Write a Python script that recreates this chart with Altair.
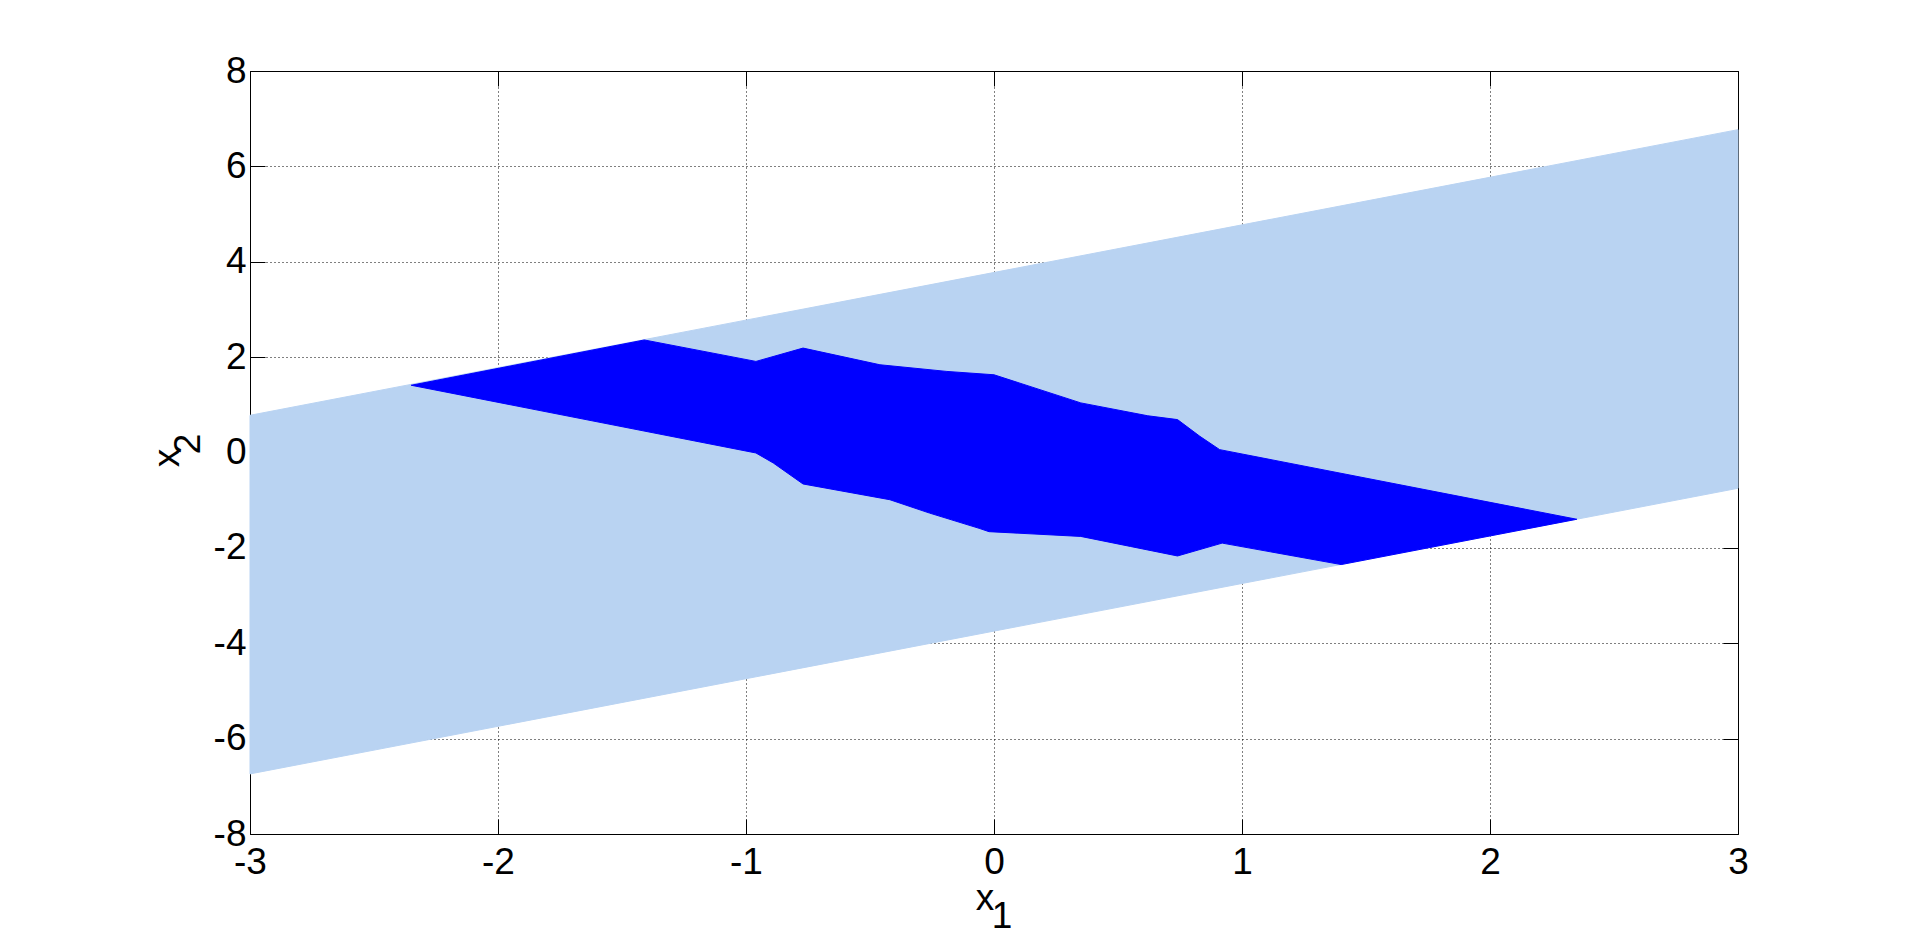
import altair as alt
import pandas as pd

# ---- data ----
x_ticks = [-3, -2, -1, 0, 1, 2, 3]
y_ticks = [-8, -6, -4, -2, 0, 2, 4, 6, 8]

# light blue band (parallelogram), vertices in drawing order
band_x = [-3.0, 3.0, 3.0, -3.0]
band_y = [0.78, 6.77, -0.75, -6.74]

# dark blue region: upper boundary, left -> right
top_x = [-2.35, -1.41, -0.96, -0.77, -0.46, -0.19, 0.00, 0.35, 0.62, 0.74, 0.83, 0.91, 2.35]
top_y = [1.41, 2.36, 1.91, 2.19, 1.84, 1.70, 1.63, 1.04, 0.77, 0.69, 0.34, 0.06, -1.40]

# dark blue region: lower boundary, left -> right
bot_x = [-2.35, -0.96, -0.89, -0.77, -0.42, -0.26, -0.06, -0.02, 0.35, 0.55, 0.74, 0.92, 1.40, 2.35]
bot_y = [1.41, -0.01, -0.22, -0.66, -0.99, -1.27, -1.59, -1.66, -1.76, -1.97, -2.17, -1.90, -2.35, -1.40]

LIGHT = "#B9D3F2"
DARK = "#0000FF"
FONT = "Liberation Sans"
FS = 37

# ---- tables ----
band_df = pd.DataFrame({"x": band_x + band_x[:1], "y": band_y + band_y[:1]})
band_df["i"] = range(len(band_df))

px = top_x + bot_x[::-1][1:]
py = top_y + bot_y[::-1][1:]
poly_df = pd.DataFrame({"x": px, "y": py})
poly_df["i"] = range(len(poly_df))

xs = alt.Scale(domain=[-3, 3], nice=False, zero=False)
ys = alt.Scale(domain=[-8, 8], nice=False, zero=False)

common = dict(tickSize=15, tickColor="black", tickWidth=1, domain=False, offset=-15,
              labelFont=FONT, labelFontSize=FS, labelColor="black", title="",
              labelFlush=False, labelOverlap=False, labelExpr="'' + datum.value")

ax_bottom = alt.Axis(orient="bottom", values=x_ticks, grid=True, gridColor="black",
                     gridDash=[1, 3], gridWidth=1, gridOpacity=1, labelPadding=10, **common)
ax_left = alt.Axis(orient="left", values=y_ticks, grid=True, gridColor="black",
                   gridDash=[1, 3], gridWidth=1, gridOpacity=1, labelPadding=4, **common)
ax_top = alt.Axis(orient="top", values=x_ticks, grid=False, labels=False, **common)
ax_right = alt.Axis(orient="right", values=y_ticks, grid=False, labels=False, **common)

band = alt.Chart(band_df).mark_line(fill=LIGHT, stroke=LIGHT, strokeWidth=1).encode(
    x=alt.X("x:Q", scale=xs, axis=ax_bottom),
    y=alt.Y("y:Q", scale=ys, axis=ax_left),
    order=alt.Order("i:Q"),
)

poly = alt.Chart(poly_df).mark_line(fill=DARK, stroke=DARK, strokeWidth=1).encode(
    x=alt.X("x:Q", scale=xs, axis=ax_top),
    y=alt.Y("y:Q", scale=ys, axis=ax_right),
    order=alt.Order("i:Q"),
)

def label(txt, x, y, angle=0, size=FS):
    return alt.Chart(pd.DataFrame({"t": [txt]})).mark_text(
        font=FONT, fontSize=size, color="black", align="center",
        baseline="alphabetic", angle=angle
    ).encode(text="t:N", x=alt.value(x), y=alt.value(y))

x_title_main = label("x", 735, 839)
x_title_sub = label("1", 752, 857)
y_title_main = label("x", -71, 387, angle=270)
y_title_sub = label("2", -50, 373, angle=270)

chart = alt.layer(band, poly, x_title_main, x_title_sub, y_title_main, y_title_sub).resolve_axis(
    x="independent", y="independent"
).properties(
    width=1488, height=763,
    autosize=alt.AutoSizeParams(type="none"),
    padding={"left": 242, "top": 63, "right": 170, "bottom": 104},
    background="white",
).configure_view(stroke="black", strokeWidth=1)

chart.save("out.html", embed_options={"renderer": "svg", "actions": False})
